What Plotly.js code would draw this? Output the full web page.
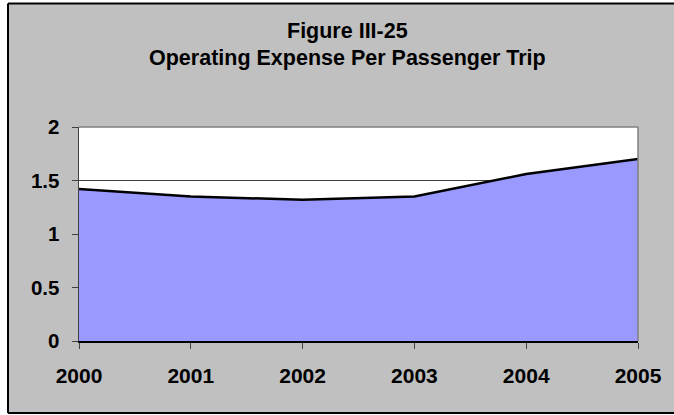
<!DOCTYPE html>
<html>
<head>
<meta charset="utf-8">
<script src="https://cdn.plot.ly/plotly-3.0.1.min.js"></script>
<style>html,body{margin:0;padding:0;background:#fff;overflow:hidden;}#chart{width:674px;height:415px;}</style>
</head>
<body>
<div id="chart"></div>
<script>
var years = [2000, 2001, 2002, 2003, 2004, 2005];
var expensePerTrip = [1.42, 1.35, 1.32, 1.35, 1.56, 1.70];
var yTicks = [0, 0.5, 1, 1.5, 2];
var titleLines = ['Figure III-25', 'Operating Expense Per Passenger Trip'];
var titleLineY = [1.449, 1.322];

var fontFam = 'Liberation Sans, Arial, sans-serif';

var trace = {
  x: years,
  y: expensePerTrip,
  type: 'scatter',
  mode: 'lines',
  fill: 'tozeroy',
  fillcolor: '#9999ff',
  line: {color: '#000000', width: 2.5},
  hoverinfo: 'skip'
};

var titleAnnotations = titleLines.map(function (t, i) {
  return {
    text: t, xref: 'paper', yref: 'paper',
    x: (347 - 79) / 559, xanchor: 'center',
    y: titleLineY[i], yanchor: 'middle',
    showarrow: false,
    font: {family: fontFam, size: 21.5, weight: 'bold', color: '#000000'}
  };
});

var fx0 = -0.127, fx1 = 1.3, fy0 = -0.336, fy1 = 1.577;

var layout = {
  width: 674,
  height: 415,
  margin: {l: 79, r: 36, t: 127, b: 74, pad: 0},
  paper_bgcolor: '#ffffff',
  plot_bgcolor: 'rgba(0,0,0,0)',
  showlegend: false,
  font: {family: fontFam, color: '#000000'},
  annotations: titleAnnotations,
  xaxis: {
    range: [years[0], years[years.length - 1]],
    tickmode: 'array',
    tickvals: years,
    ticktext: years.map(String),
    ticks: 'outside', ticklen: 6, tickcolor: '#404040', tickwidth: 1,
    ticklabelstandoff: 9,
    tickfont: {family: fontFam, size: 21, weight: 'bold', color: '#000000'},
    showline: true, linecolor: '#000000', linewidth: 1.5,
    showgrid: false, zeroline: false, fixedrange: true
  },
  yaxis: {
    range: [0, 2],
    tickmode: 'array',
    tickvals: yTicks,
    ticktext: yTicks.map(String),
    ticks: 'outside', ticklen: 6, tickcolor: '#404040', tickwidth: 1,
    ticklabelstandoff: 8,
    tickfont: {family: fontFam, size: 20.5, weight: 'bold', color: '#000000'},
    showline: true, linecolor: '#404040', linewidth: 1.5,
    showgrid: true, gridcolor: '#404040', gridwidth: 1,
    zeroline: false, fixedrange: true
  },
  shapes: [
    {type: 'rect', xref: 'paper', yref: 'paper', layer: 'below',
     x0: fx0, x1: fx1, y0: fy0, y1: fy1,
     fillcolor: '#c0c0c0', line: {width: 0}},
    {type: 'line', xref: 'paper', yref: 'paper', layer: 'below',
     x0: fx0, x1: fx1, y0: fy1, y1: fy1, line: {color: '#000000', width: 2}},
    {type: 'line', xref: 'paper', yref: 'paper', layer: 'below',
     x0: fx0, x1: fx1, y0: fy0, y1: fy0, line: {color: '#000000', width: 2}},
    {type: 'line', xref: 'paper', yref: 'paper', layer: 'below',
     x0: fx0, x1: fx0, y0: fy0, y1: fy1, line: {color: '#000000', width: 2}},
    {type: 'rect', xref: 'paper', yref: 'paper', layer: 'below',
     x0: 0, x1: 1, y0: 0, y1: 1,
     fillcolor: '#ffffff', line: {width: 0}},
    {type: 'line', xref: 'paper', yref: 'paper', layer: 'above',
     x0: 0, x1: 1, y0: 1, y1: 1, line: {color: '#808080', width: 1.5}},
    {type: 'line', xref: 'paper', yref: 'paper', layer: 'above',
     x0: 1, x1: 1, y0: 0, y1: 1, line: {color: '#808080', width: 1.5}}
  ]
};

Plotly.newPlot('chart', [trace], layout, {displayModeBar: false, staticPlot: true});
</script>
</body>
</html>
